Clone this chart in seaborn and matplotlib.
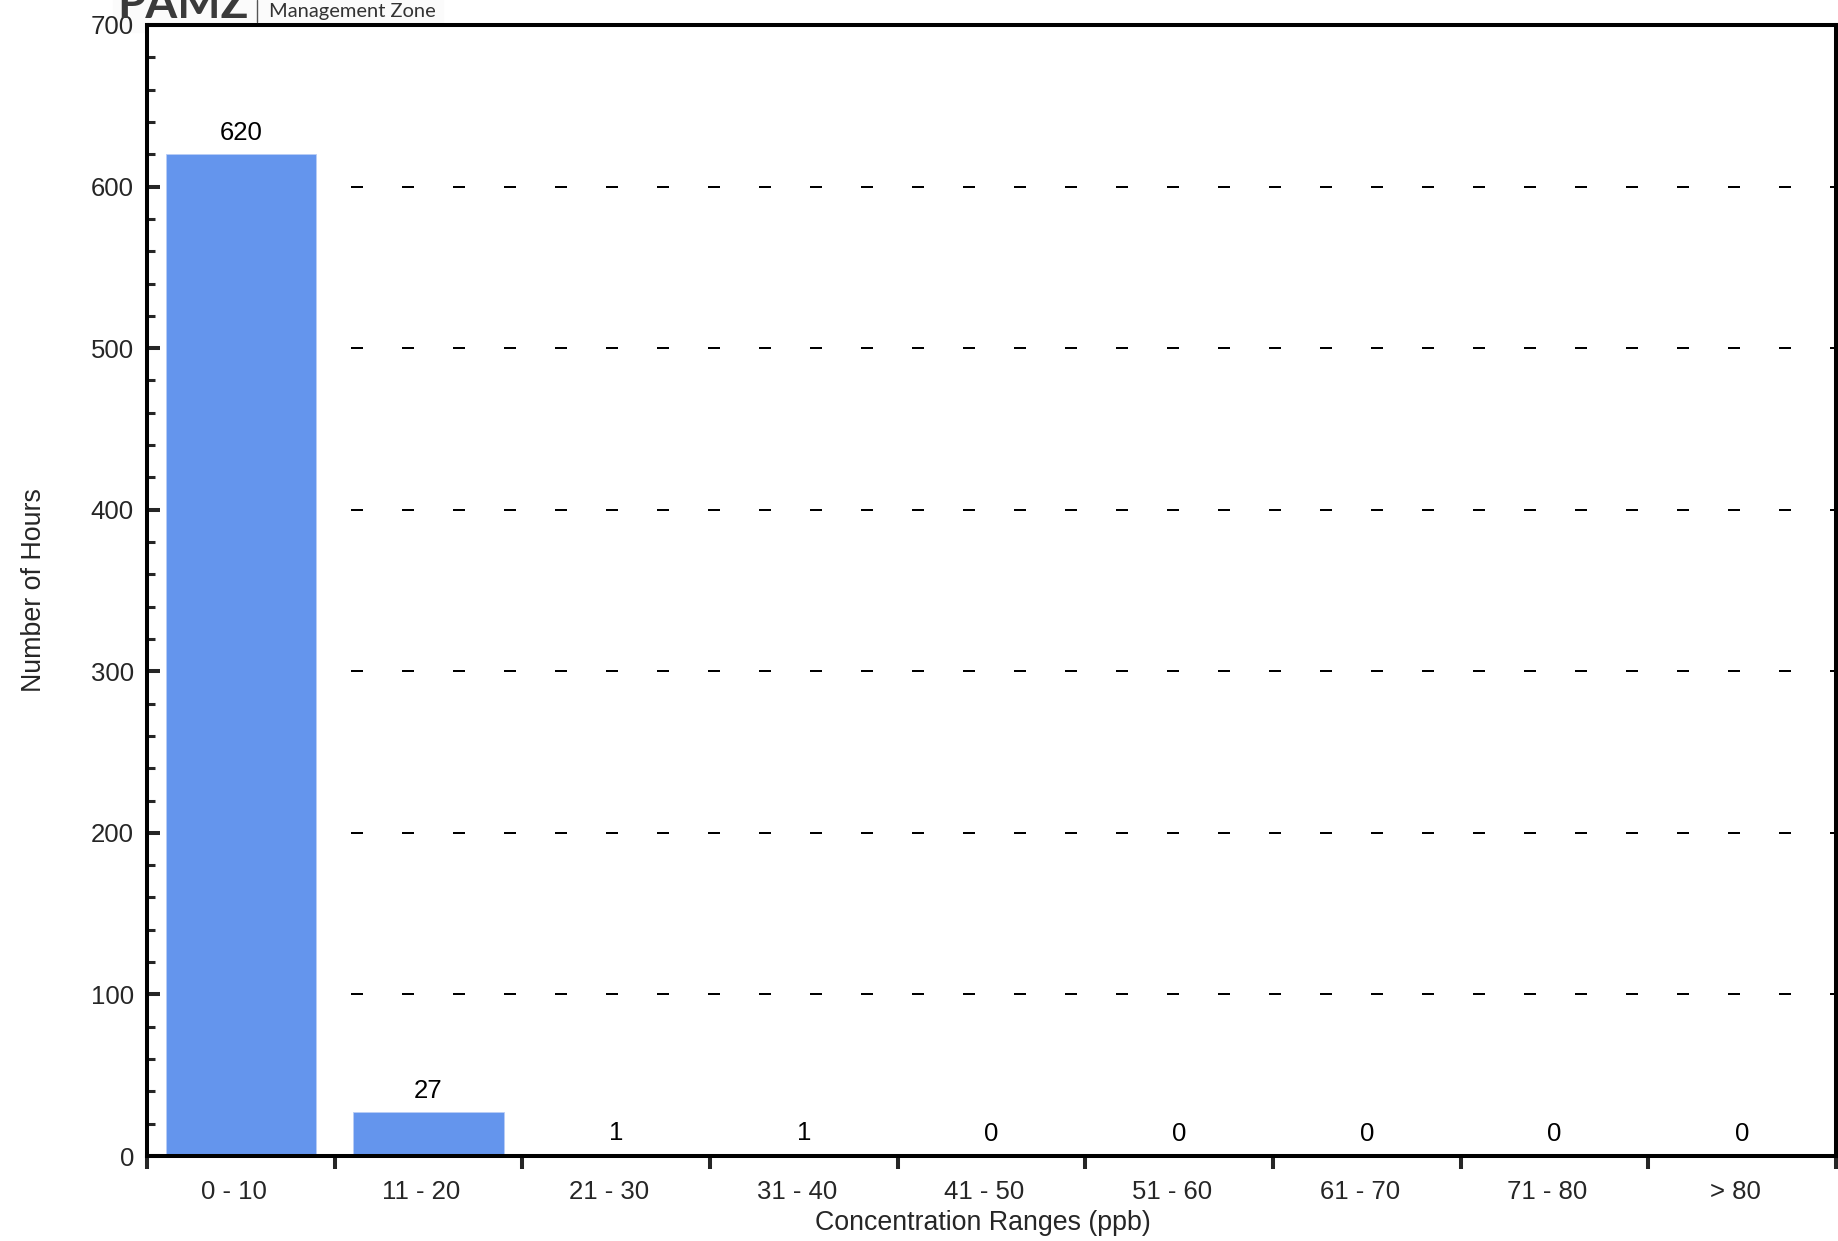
import numpy as np
import seaborn as sns
import matplotlib.pyplot as plt
from matplotlib.lines import Line2D
from matplotlib.patches import Rectangle
from matplotlib.ticker import MultipleLocator, FixedLocator
from matplotlib.transforms import ScaledTranslation

# datos
ranges = ['0 - 10', '11 - 20', '21 - 30', '31 - 40', '41 - 50',
          '51 - 60', '61 - 70', '71 - 80', '> 80']
hours = [620, 27, 1, 1, 0, 0, 0, 0, 0]

sns.set_style('white')
plt.rcParams['font.family'] = ['Liberation Sans', 'DejaVu Sans']

W, H = 1838, 1241
fig = plt.figure(figsize=(W / 100, H / 100), dpi=100)
ax = fig.add_axes([147 / W, 1 - 1156 / H, (1836 - 147) / W, (1156 - 25) / H])

sns.barplot(x=ranges, y=hours, color='#6495ED', saturation=1,
            width=0.8, edgecolor='#b9cdf5', linewidth=0.6, ax=ax)

# etiquetas de valor
ax.bar_label(ax.containers[0], fontsize=18.5, padding=7, color='black')

ax.set_ylim(0, 700)
ax.set_xlim(-0.5, len(ranges) - 0.5)
ax.yaxis.set_major_locator(MultipleLocator(100))
ax.yaxis.set_minor_locator(MultipleLocator(20))
ax.xaxis.set_minor_locator(FixedLocator(np.arange(-0.5, len(ranges), 1)))

ax.tick_params(axis='y', which='major', direction='in', length=9.4,
               width=2.9, labelsize=18.5, pad=9.4, left=True)
ax.tick_params(axis='y', which='minor', direction='in', length=5.8,
               width=2.2, left=True)
ax.tick_params(axis='x', which='major', length=0, labelsize=18.5, pad=17)
ax.tick_params(axis='x', which='minor', direction='out', length=9.4,
               width=2.9, bottom=True)

# desplazar etiquetas x un poco a la izquierda
shift = ScaledTranslation(-7 / 100, 0, fig.dpi_scale_trans)
for lab in ax.get_xticklabels():
    lab.set_transform(lab.get_transform() + shift)

for sp in ax.spines.values():
    sp.set_visible(True)
    sp.set_color('black')
    sp.set_linewidth(2.9)

ax.set_axisbelow(True)
ax.yaxis.grid(True, which='major', color='black', linewidth=1.44,
              linestyle=(0, (6, 19.5)))
ax.xaxis.grid(False)

ax.set_xlabel('Concentration Ranges (ppb)', fontsize=19.3)
ax.set_ylabel('Number of Hours', fontsize=19.3)
ax.xaxis.set_label_coords(0.495, -0.048)
ax.yaxis.set_label_coords(-0.059, 0.5)

# logo recortado arriba
fig.add_artist(Rectangle((113 / W, 1 - 32 / H), 330 / W, 32 / H,
                         transform=fig.transFigure, color='#fbfbfb',
                         zorder=-5))
fig.text(117 / W, 1 - 18 / H, 'PAMZ', fontsize=33, fontweight='bold',
         family=['Lato', 'DejaVu Sans'], color='#3a3a3a', va='baseline')
fig.add_artist(Line2D([257 / W, 257 / W], [1, 1 - 22 / H],
                      transform=fig.transFigure, color='#555555', lw=1))
fig.text(269 / W, 1 - 17 / H, 'Management Zone', fontsize=14.5,
         family=['Lato', 'DejaVu Sans'], color='#333333', va='baseline')

plt.savefig('out.png', dpi=100)
